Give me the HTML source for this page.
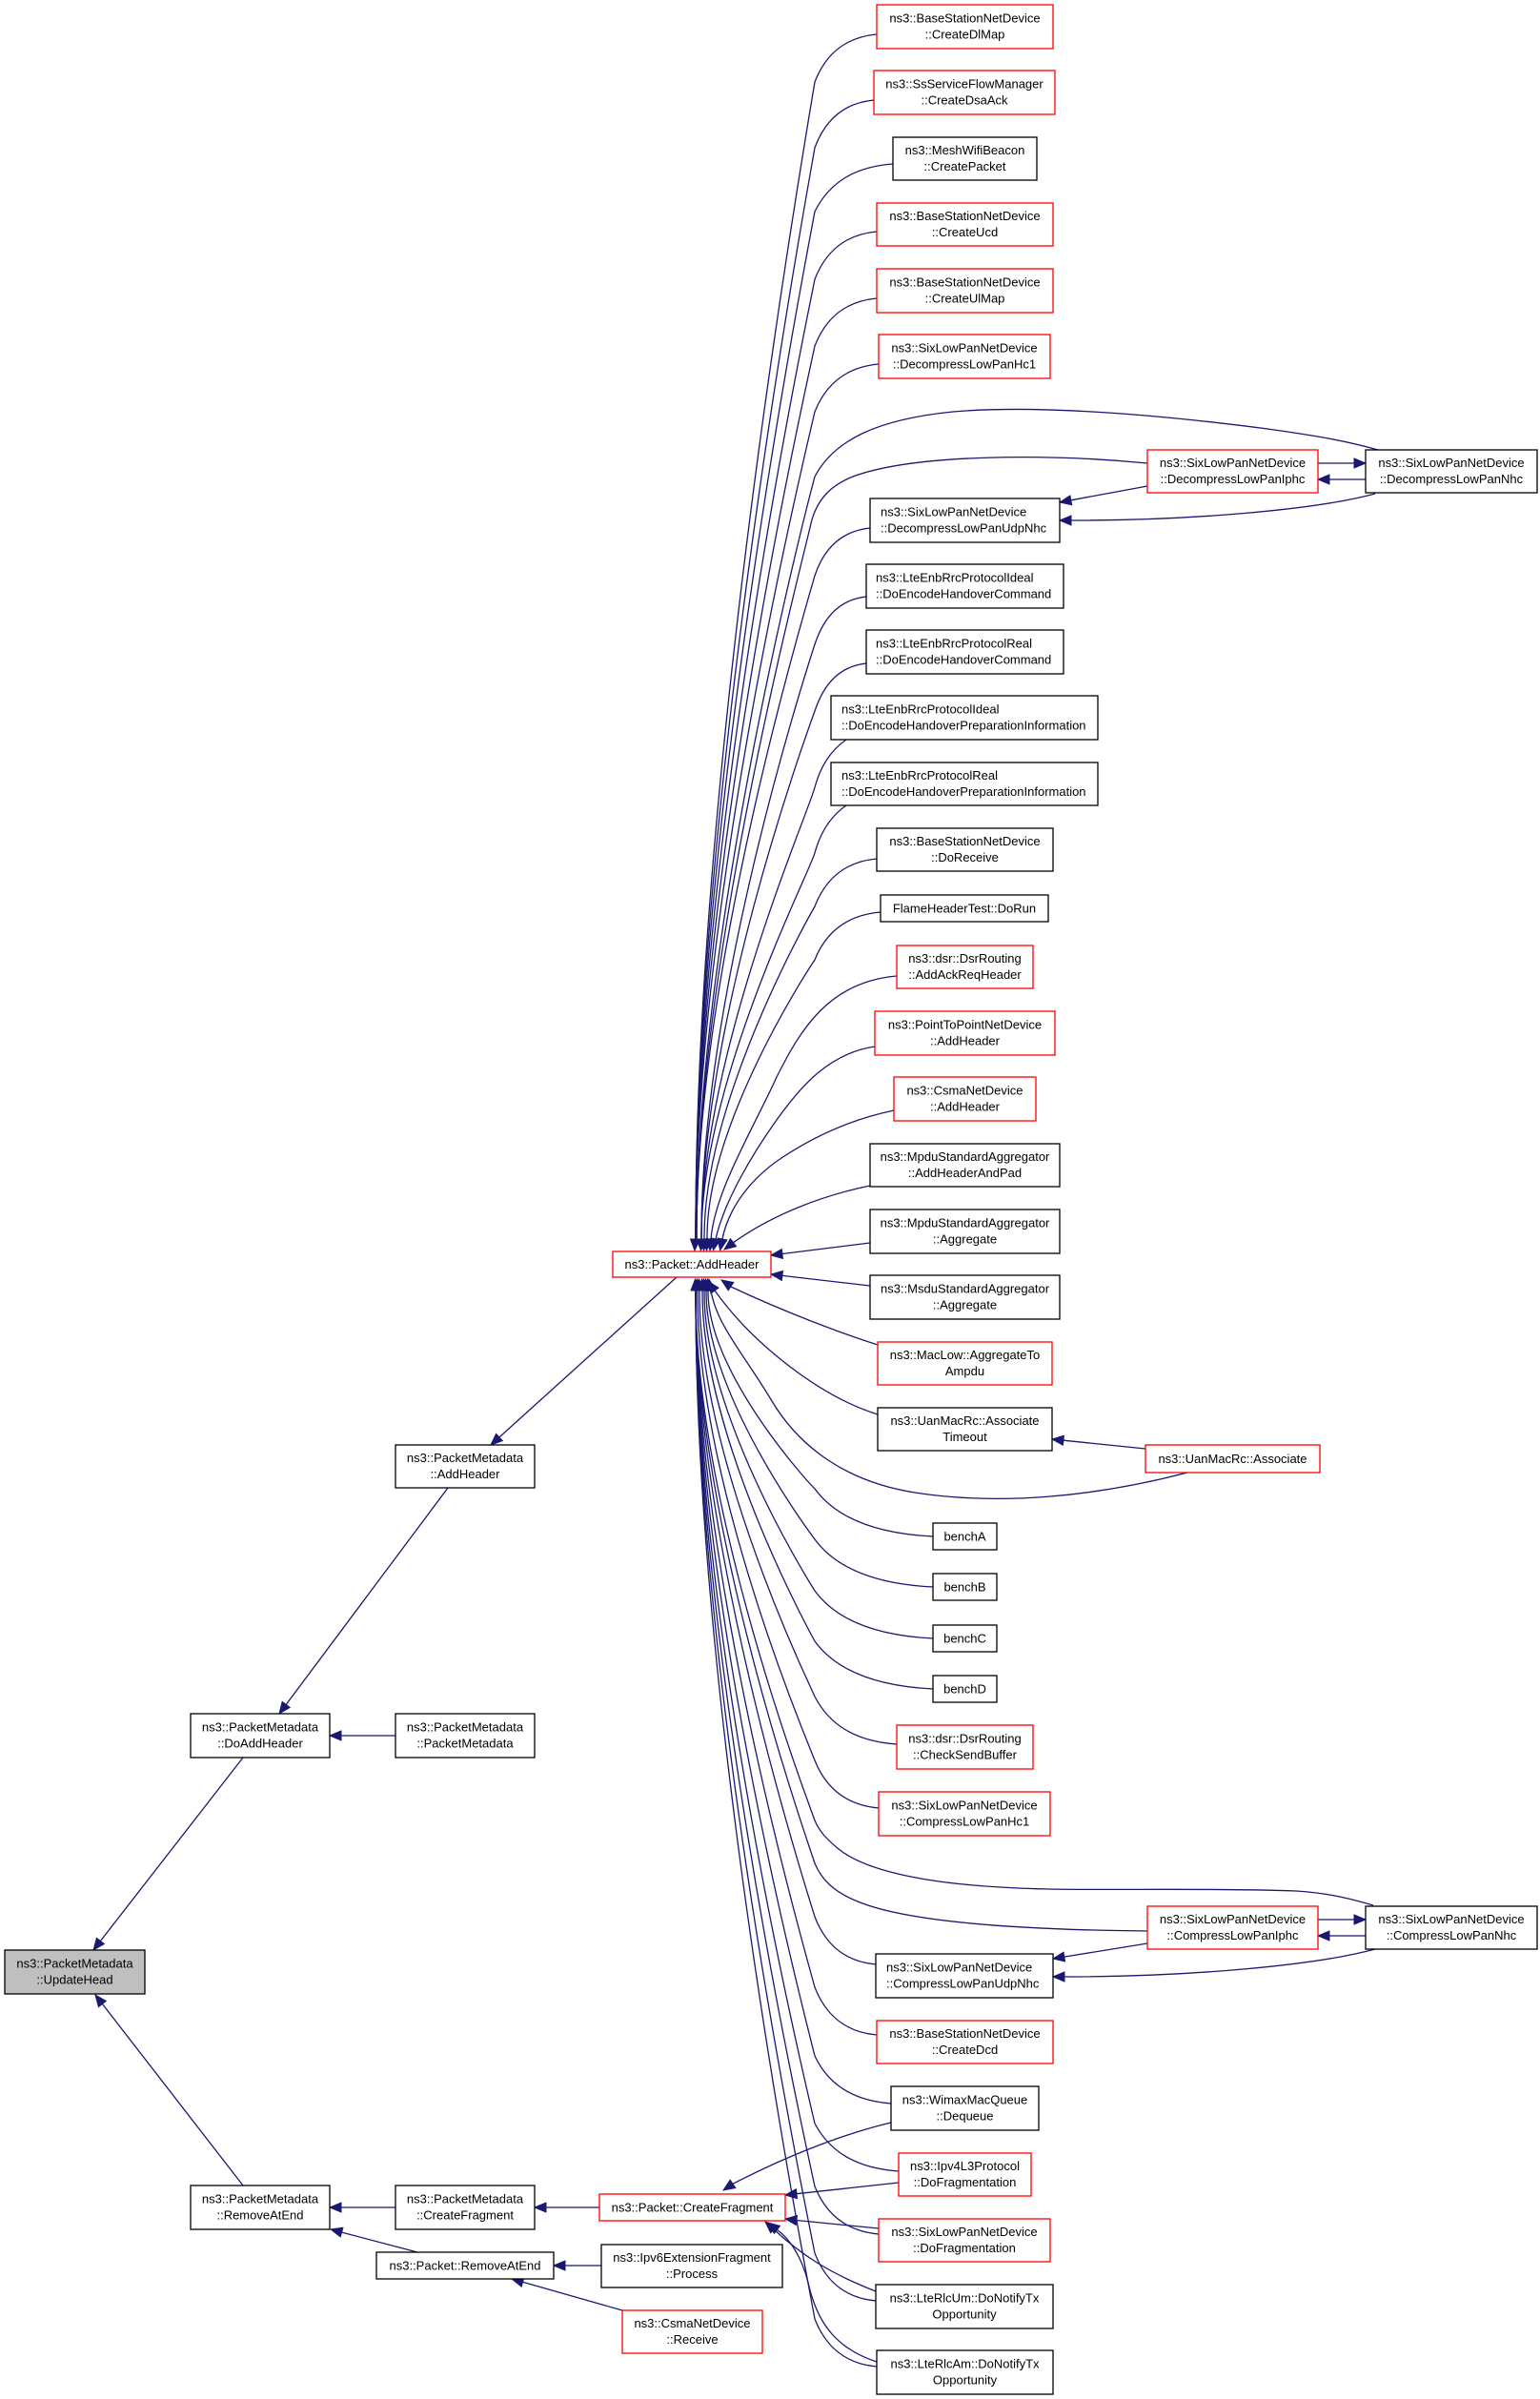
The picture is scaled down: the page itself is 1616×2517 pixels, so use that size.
<!DOCTYPE html>
<html><head><meta charset="utf-8"><style>
html,body{margin:0;padding:0;background:#fff;}
svg{display:block;}
text{font-family:"Liberation Sans",Arial,sans-serif;font-size:13px;fill:#000;}
.e{fill:none;stroke:#191970;stroke-width:1.3;}
.a{fill:#191970;stroke:#191970;stroke-width:1;}
.nb{fill:#fff;stroke:#000;stroke-width:1.3;}
.nr{fill:#fff;stroke:#ff0000;stroke-width:1.3;}
.ng{fill:#bfbfbf;stroke:#000;stroke-width:1.3;}
</style></head><body>
<svg width="1616" height="2517" viewBox="0 0 1616 2517" xmlns="http://www.w3.org/2000/svg">
<!-- upper fan edges -->
<path class="e" d="M920,36 C887.5,39 866.7,56 855,86 C843,159 729,814 730,1300"/>
<path class="e" d="M917,105 C886,108 866,125 855,155 C843,224 729,842 730,1300"/>
<path class="e" d="M937,172 C896,175 870,192 855,222 C843,287 729,869 730,1300"/>
<path class="e" d="M920,243 C887.5,246 866.7,263 855,293 C843,353 729,897 730,1300"/>
<path class="e" d="M920,313 C887.5,316 866.7,333 855,363 C843,419 729,925 730,1300"/>
<path class="e" d="M922,382 C888.5,385 867,402 855,432 C843,484 729,953 730,1300"/>
<path class="e" d="M1446,472 C1410,462 1380,457 1330,450 C1200,433 1080,425 1000,432 C920,440 875,462 855,500 C843,545 730,985 731,1300"/>
<path class="e" d="M1204,486 C1100,476 960,476 895,500 C870,510 858,525 852,545 C842,590 730,1010 731,1300"/>
<path class="e" d="M913,554 C884,557 865,574 855,604 C843,646 730,1022 731,1300"/>
<path class="e" d="M909,626 C882,629 865,646 855,676 C843,713 735,1050 736,1300"/>
<path class="e" d="M909,696 C882,699 865,716 855,746 C843,779 735,1078 736,1300"/>
<path class="e" d="M888,776 C875,785 862,800 855,826 C848,854 735,1110 736,1300"/>
<path class="e" d="M888,845 C875,854 862,869 855,895 C848,919 735,1138 736,1300"/>
<path class="e" d="M920,901 C887.5,904 866.7,921 855,951 C843,972 738,1160 739,1300"/>
<path class="e" d="M924,957 C889.5,960 867,977 855,1007 C843,1025 741,1183 742,1300"/>
<path class="e" d="M941,1024 C870,1030 840,1080 815,1130 C790,1185 750,1250 746,1300"/>
<path class="e" d="M918,1098 C870,1105 840,1140 815,1175 C790,1210 760,1260 751,1300"/>
<path class="e" d="M938,1165 C890,1175 850,1195 820,1215 C790,1235 765,1265 758,1300"/>
<path class="e" d="M913,1244 C860,1255 810,1275 769.5,1303.7"/>
<polygon class="a" points="729,1312 724.5,1300 734.5,1300"/>
<polygon class="a" points="735.5,1312 731,1300 741,1300"/>
<polygon class="a" points="738.5,1312 734,1300 744,1300"/>
<polygon class="a" points="741.5,1312 737,1300 747,1300"/>
<polygon class="a" points="745,1312 751,1300.4 741,1299.6"/>
<polygon class="a" points="748.4,1311.7 755.9,1301.1 746.1,1298.9"/>
<polygon class="a" points="755.6,1311.8 762.9,1301 753.1,1299"/>
<polygon class="a" points="760,1311 766.4,1299.7 772.6,1307.7"/>
<!-- right side into hub -->
<path class="e" d="M913,1304 L820.9,1315.5"/>
<polygon class="a" points="809,1317 821.5,1320.5 820.3,1310.5"/>
<path class="e" d="M913,1349 L820.9,1338.4"/>
<polygon class="a" points="809,1337 820.3,1343.4 821.5,1333.4"/>
<!-- lower fan edges -->
<path class="e" d="M921,1411 C880,1398 820,1375 767,1350"/>
<polygon class="a" points="757,1343 764.2,1353.9 769.8,1345.5"/>
<path class="e" d="M921,1484 C860,1465 790,1410 750,1354"/>
<polygon class="a" points="743,1344.3 745.95,1356.9 754.05,1351.1"/>
<path class="e" d="M1246,1545 C1150,1570 1050,1580 960,1566 C890,1555 840,1520 810,1470 C780,1420 752,1390 746,1354"/>
<polygon class="a" points="744,1342.2 741.1,1354.8 750.9,1353.2"/>
<path class="e" d="M979,1612 C917,1609 877,1592 855,1562 C843,1550 742,1437 743,1354"/>
<polygon class="a" points="742.5,1342 738,1354 748,1354"/>
<path class="e" d="M979,1665 C917,1662 877,1645 855,1615 C843,1599 740,1458 741,1354"/>
<polygon class="a" points="740.5,1342 736,1354 746,1354"/>
<path class="e" d="M979,1719 C917,1716 877,1699 855,1669 C843,1650 738,1480 739,1354"/>
<polygon class="a" points="738.5,1342 734,1354 744,1354"/>
<path class="e" d="M979,1772 C917,1769 877,1752 855,1722 C843,1700 736,1501 737,1354"/>
<polygon class="a" points="736.5,1342 732,1354 742,1354"/>
<path class="e" d="M941,1830 C898,1827 870.5,1810 855,1780 C843,1754 733,1524 734,1354"/>
<polygon class="a" points="733.5,1342 729,1354 739,1354"/>
<path class="e" d="M922,1897 C888.5,1894 867,1877 855,1847 C843,1817 731,1551 732,1354"/>
<polygon class="a" points="731.5,1342 727,1354 737,1354"/>
<path class="e" d="M1441,1999 C1410,1990 1390,1986 1360,1984 C1250,1980 1120,1985 1050,1980 C960,1975 905,1960 880,1940 C868,1930 860,1922 855,1910 C843,1877 729,1576 730,1354"/>
<path class="e" d="M1204,2026 C1100,2025 960,2020 900,1995 C875,1985 862,1972 855,1955 C843,1919 729,1594 730,1354"/>
<path class="e" d="M919,2061 C887,2058 866.5,2041 855,2011 C843,1972 729,1617 730,1354"/>
<path class="e" d="M920,2135 C887.5,2132 866.7,2115 855,2085 C843,2041 729,1646 730,1354"/>
<path class="e" d="M935,2207 C895,2204 869,2187 855,2157 C843,2109 729,1675 730,1354"/>
<path class="e" d="M943,2278 C899,2275 871,2258 855,2228 C843,2176 729,1704 730,1354"/>
<path class="e" d="M922,2344 C888.5,2341 867,2324 855,2294 C843,2238 729,1730 730,1354"/>
<path class="e" d="M919,2414 C887,2411 866.5,2394 855,2364 C843,2303 729,1758 730,1354"/>
<path class="e" d="M920,2483 C887.5,2480 866.7,2463 855,2433 C843,2368 729,1786 730,1354"/>
<polygon class="a" points="729.5,1342 725,1354 735,1354"/>
<!-- CreateFragment edges -->
<path class="e" d="M935,2227 C880,2240 820,2265 769,2291.3"/>
<polygon class="a" points="759,2298 771.8,2295.5 766.2,2287.1"/>
<path class="e" d="M943,2290 L835.9,2301.7"/>
<polygon class="a" points="824,2303 836.5,2306.7 835.4,2296.7"/>
<path class="e" d="M922,2338 L835.9,2329.5"/>
<polygon class="a" points="824,2328 835.3,2334.4 836.5,2324.5"/>
<path class="e" d="M919,2404 C870,2385 840,2365 812,2339"/>
<polygon class="a" points="803,2331 808.7,2342.7 815.3,2335.3"/>
<path class="e" d="M920,2478 C880,2465 858,2440 848,2395 C842,2370 830,2350 815.5,2339.4"/>
<polygon class="a" points="806,2332 812.4,2343.3 818.5,2335.4"/>
<!-- right clusters -->
<path class="e" d="M1383,486 L1421,486"/>
<polygon class="a" points="1433,486 1421,481 1421,491"/>
<path class="e" d="M1433,503 L1395,503"/>
<polygon class="a" points="1383,503 1395,498 1395,508"/>
<path class="e" d="M1204,510 L1123.8,524.8"/>
<polygon class="a" points="1112,527 1124.7,529.7 1122.9,519.9"/>
<path class="e" d="M1443,518 C1380,535 1250,546 1124,546"/>
<polygon class="a" points="1112,546 1124,541 1124,551"/>
<path class="e" d="M1383,2014 L1421,2014"/>
<polygon class="a" points="1433,2014 1421,2009 1421,2019"/>
<path class="e" d="M1433,2031 L1395,2031"/>
<polygon class="a" points="1383,2031 1395,2026 1395,2036"/>
<path class="e" d="M1204,2039 L1116.8,2053.1"/>
<polygon class="a" points="1105,2055 1117.6,2058 1116,2048.2"/>
<path class="e" d="M1443,2045 C1380,2062 1250,2074 1117,2074"/>
<polygon class="a" points="1105,2074 1117,2069 1117,2079"/>
<path class="e" d="M1202,1520 L1115.9,1511.2"/>
<polygon class="a" points="1104,1510 1115.4,1516.2 1116.4,1506.2"/>
<!-- left edges -->
<path class="e" d="M255,1844 L105.4,2036.5"/>
<polygon class="a" points="98,2046 109.3,2039.6 101.4,2033.4"/>
<path class="e" d="M255,2293 L107.4,2102.5"/>
<polygon class="a" points="100,2093 103.4,2105.6 111.3,2099.4"/>
<path class="e" d="M470,1561 L300.2,1788.4"/>
<polygon class="a" points="293,1798 304.2,1791.4 296.2,1785.4"/>
<path class="e" d="M710,1340 L523.9,1508"/>
<polygon class="a" points="515,1516 527.3,1511.7 520.6,1504.3"/>
<path class="e" d="M415,1821 L358,1821"/>
<polygon class="a" points="346,1821 358,1816 358,1826"/>
<path class="e" d="M415,2316 L358,2316"/>
<polygon class="a" points="346,2316 358,2311 358,2321"/>
<path class="e" d="M629,2316 L573,2316"/>
<polygon class="a" points="561,2316 573,2311 573,2321"/>
<path class="e" d="M438,2363 L358.6,2342.1"/>
<polygon class="a" points="347,2339 357.3,2346.9 359.9,2337.2"/>
<path class="e" d="M631,2377 L593,2377"/>
<polygon class="a" points="581,2377 593,2372 593,2382"/>
<path class="e" d="M653,2424 L548.5,2394.3"/>
<polygon class="a" points="537,2391 547.2,2399.1 549.9,2389.5"/>

<!-- nodes -->
<rect class="nr" x="920" y="5" width="185" height="46"/>
<text x="1012.5" y="23.5" text-anchor="middle">ns3::BaseStationNetDevice</text><text x="1012.5" y="40.5" text-anchor="middle">::CreateDlMap</text>
<rect class="nr" x="917" y="74" width="190" height="46"/>
<text x="1012" y="92.5" text-anchor="middle">ns3::SsServiceFlowManager</text><text x="1012" y="109.5" text-anchor="middle">::CreateDsaAck</text>
<rect class="nb" x="937" y="144" width="151" height="45"/>
<text x="1012.5" y="162" text-anchor="middle">ns3::MeshWifiBeacon</text><text x="1012.5" y="179" text-anchor="middle">::CreatePacket</text>
<rect class="nr" x="920" y="213" width="185" height="45"/>
<text x="1012.5" y="231" text-anchor="middle">ns3::BaseStationNetDevice</text><text x="1012.5" y="248" text-anchor="middle">::CreateUcd</text>
<rect class="nr" x="920" y="282" width="185" height="46"/>
<text x="1012.5" y="300.5" text-anchor="middle">ns3::BaseStationNetDevice</text><text x="1012.5" y="317.5" text-anchor="middle">::CreateUlMap</text>
<rect class="nr" x="922" y="351" width="180" height="46"/>
<text x="1012" y="369.5" text-anchor="middle">ns3::SixLowPanNetDevice</text><text x="1012" y="386.5" text-anchor="middle">::DecompressLowPanHc1</text>
<rect class="nr" x="1204" y="472" width="179" height="45"/>
<text x="1293.5" y="490" text-anchor="middle">ns3::SixLowPanNetDevice</text><text x="1293.5" y="507" text-anchor="middle">::DecompressLowPanIphc</text>
<rect class="nb" x="1433" y="472" width="180" height="45"/>
<text x="1523" y="490" text-anchor="middle">ns3::SixLowPanNetDevice</text><text x="1523" y="507" text-anchor="middle">::DecompressLowPanNhc</text>
<rect class="nb" x="913" y="523" width="199" height="46"/>
<text x="924" y="541.5">ns3::SixLowPanNetDevice</text><text x="924" y="558.5">::DecompressLowPanUdpNhc</text>
<rect class="nb" x="909" y="592" width="207" height="46"/>
<text x="919" y="610.5">ns3::LteEnbRrcProtocolIdeal</text><text x="919" y="627.5">::DoEncodeHandoverCommand</text>
<rect class="nb" x="909" y="661" width="207" height="46"/>
<text x="919" y="679.5">ns3::LteEnbRrcProtocolReal</text><text x="919" y="696.5">::DoEncodeHandoverCommand</text>
<rect class="nb" x="872" y="730" width="280" height="46"/>
<text x="883" y="748.5">ns3::LteEnbRrcProtocolIdeal</text><text x="883" y="765.5">::DoEncodeHandoverPreparationInformation</text>
<rect class="nb" x="872" y="800" width="280" height="45"/>
<text x="883" y="818">ns3::LteEnbRrcProtocolReal</text><text x="883" y="835">::DoEncodeHandoverPreparationInformation</text>
<rect class="nb" x="920" y="869" width="185" height="45"/>
<text x="1012.5" y="887" text-anchor="middle">ns3::BaseStationNetDevice</text><text x="1012.5" y="904" text-anchor="middle">::DoReceive</text>
<rect class="nb" x="924" y="939" width="176" height="28"/>
<text x="1012" y="957.7" text-anchor="middle">FlameHeaderTest::DoRun</text>
<rect class="nr" x="941" y="992" width="143" height="45"/>
<text x="1012.5" y="1010" text-anchor="middle">ns3::dsr::DsrRouting</text><text x="1012.5" y="1027" text-anchor="middle">::AddAckReqHeader</text>
<rect class="nr" x="918" y="1061" width="189" height="46"/>
<text x="1012.5" y="1079.5" text-anchor="middle">ns3::PointToPointNetDevice</text><text x="1012.5" y="1096.5" text-anchor="middle">::AddHeader</text>
<rect class="nr" x="938" y="1130" width="149" height="46"/>
<text x="1012.5" y="1148.5" text-anchor="middle">ns3::CsmaNetDevice</text><text x="1012.5" y="1165.5" text-anchor="middle">::AddHeader</text>
<rect class="nb" x="913" y="1200" width="199" height="45"/>
<text x="1012.5" y="1218" text-anchor="middle">ns3::MpduStandardAggregator</text><text x="1012.5" y="1235" text-anchor="middle">::AddHeaderAndPad</text>
<rect class="nb" x="913" y="1269" width="199" height="46"/>
<text x="1012.5" y="1287.5" text-anchor="middle">ns3::MpduStandardAggregator</text><text x="1012.5" y="1304.5" text-anchor="middle">::Aggregate</text>
<rect class="nb" x="913" y="1338" width="199" height="46"/>
<text x="1012.5" y="1356.5" text-anchor="middle">ns3::MsduStandardAggregator</text><text x="1012.5" y="1373.5" text-anchor="middle">::Aggregate</text>
<rect class="nr" x="921" y="1408" width="183" height="45"/>
<text x="1012.5" y="1426" text-anchor="middle">ns3::MacLow::AggregateTo</text><text x="1012.5" y="1443" text-anchor="middle">Ampdu</text>
<rect class="nb" x="921" y="1477" width="183" height="45"/>
<text x="1012.5" y="1495" text-anchor="middle">ns3::UanMacRc::Associate</text><text x="1012.5" y="1512" text-anchor="middle">Timeout</text>
<rect class="nr" x="1202" y="1516" width="183" height="29"/>
<text x="1293.5" y="1535.2" text-anchor="middle">ns3::UanMacRc::Associate</text>
<rect class="nb" x="979" y="1598" width="67" height="28"/>
<text x="1012.5" y="1616.7" text-anchor="middle">benchA</text>
<rect class="nb" x="979" y="1651" width="67" height="28"/>
<text x="1012.5" y="1669.7" text-anchor="middle">benchB</text>
<rect class="nb" x="979" y="1705" width="67" height="28"/>
<text x="1012.5" y="1723.7" text-anchor="middle">benchC</text>
<rect class="nb" x="979" y="1758" width="67" height="28"/>
<text x="1012.5" y="1776.7" text-anchor="middle">benchD</text>
<rect class="nr" x="941" y="1810" width="143" height="46"/>
<text x="1012.5" y="1828.5" text-anchor="middle">ns3::dsr::DsrRouting</text><text x="1012.5" y="1845.5" text-anchor="middle">::CheckSendBuffer</text>
<rect class="nr" x="922" y="1880" width="180" height="46"/>
<text x="1012" y="1898.5" text-anchor="middle">ns3::SixLowPanNetDevice</text><text x="1012" y="1915.5" text-anchor="middle">::CompressLowPanHc1</text>
<rect class="nr" x="1204" y="2000" width="179" height="45"/>
<text x="1293.5" y="2018" text-anchor="middle">ns3::SixLowPanNetDevice</text><text x="1293.5" y="2035" text-anchor="middle">::CompressLowPanIphc</text>
<rect class="nb" x="1433" y="2000" width="180" height="45"/>
<text x="1523" y="2018" text-anchor="middle">ns3::SixLowPanNetDevice</text><text x="1523" y="2035" text-anchor="middle">::CompressLowPanNhc</text>
<rect class="nb" x="919" y="2050" width="186" height="46"/>
<text x="930" y="2068.5">ns3::SixLowPanNetDevice</text><text x="930" y="2085.5">::CompressLowPanUdpNhc</text>
<rect class="nr" x="920" y="2120" width="185" height="45"/>
<text x="1012.5" y="2138" text-anchor="middle">ns3::BaseStationNetDevice</text><text x="1012.5" y="2155" text-anchor="middle">::CreateDcd</text>
<rect class="nb" x="935" y="2189" width="155" height="46"/>
<text x="1012.5" y="2207.5" text-anchor="middle">ns3::WimaxMacQueue</text><text x="1012.5" y="2224.5" text-anchor="middle">::Dequeue</text>
<rect class="nr" x="943" y="2259" width="139" height="45"/>
<text x="1012.5" y="2277" text-anchor="middle">ns3::Ipv4L3Protocol</text><text x="1012.5" y="2294" text-anchor="middle">::DoFragmentation</text>
<rect class="nr" x="922" y="2328" width="180" height="45"/>
<text x="1012" y="2346" text-anchor="middle">ns3::SixLowPanNetDevice</text><text x="1012" y="2363" text-anchor="middle">::DoFragmentation</text>
<rect class="nb" x="919" y="2397" width="186" height="46"/>
<text x="1012" y="2415.5" text-anchor="middle">ns3::LteRlcUm::DoNotifyTx</text><text x="1012" y="2432.5" text-anchor="middle">Opportunity</text>
<rect class="nb" x="920" y="2466" width="185" height="46"/>
<text x="1012.5" y="2484.5" text-anchor="middle">ns3::LteRlcAm::DoNotifyTx</text><text x="1012.5" y="2501.5" text-anchor="middle">Opportunity</text>

<rect class="ng" x="5" y="2046" width="147" height="46"/>
<text x="78.5" y="2064.5" text-anchor="middle">ns3::PacketMetadata</text><text x="78.5" y="2081.5" text-anchor="middle">::UpdateHead</text>
<rect class="nb" x="200" y="1798" width="146" height="46"/>
<text x="273" y="1816.5" text-anchor="middle">ns3::PacketMetadata</text><text x="273" y="1833.5" text-anchor="middle">::DoAddHeader</text>
<rect class="nb" x="200" y="2293" width="146" height="46"/>
<text x="273" y="2311.5" text-anchor="middle">ns3::PacketMetadata</text><text x="273" y="2328.5" text-anchor="middle">::RemoveAtEnd</text>
<rect class="nb" x="415" y="1516" width="146" height="45"/>
<text x="488" y="1534" text-anchor="middle">ns3::PacketMetadata</text><text x="488" y="1551" text-anchor="middle">::AddHeader</text>
<rect class="nb" x="415" y="1798" width="146" height="46"/>
<text x="488" y="1816.5" text-anchor="middle">ns3::PacketMetadata</text><text x="488" y="1833.5" text-anchor="middle">::PacketMetadata</text>
<rect class="nb" x="415" y="2293" width="146" height="46"/>
<text x="488" y="2311.5" text-anchor="middle">ns3::PacketMetadata</text><text x="488" y="2328.5" text-anchor="middle">::CreateFragment</text>
<rect class="nb" x="395" y="2363" width="186" height="28"/>
<text x="488" y="2381.7" text-anchor="middle">ns3::Packet::RemoveAtEnd</text>
<rect class="nr" x="643" y="1313" width="166" height="27"/>
<text x="726" y="1331" text-anchor="middle">ns3::Packet::AddHeader</text>
<rect class="nr" x="629" y="2302" width="195" height="28"/>
<text x="726.5" y="2320.7" text-anchor="middle">ns3::Packet::CreateFragment</text>
<rect class="nb" x="631" y="2355" width="190" height="45"/>
<text x="726" y="2373" text-anchor="middle">ns3::Ipv6ExtensionFragment</text><text x="726" y="2390" text-anchor="middle">::Process</text>
<rect class="nr" x="653" y="2424" width="147" height="45"/>
<text x="726.5" y="2442" text-anchor="middle">ns3::CsmaNetDevice</text><text x="726.5" y="2459" text-anchor="middle">::Receive</text>
</svg>
</body></html>
